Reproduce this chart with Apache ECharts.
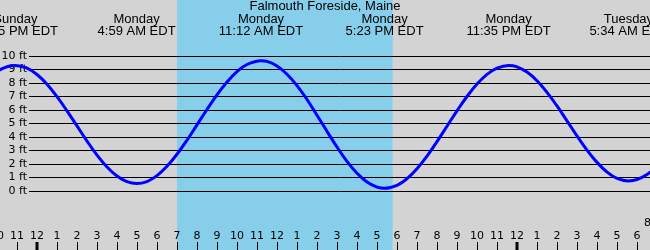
<!DOCTYPE html>
<html>
<head>
<meta charset="utf-8">
<script src="https://cdn.jsdelivr.net/npm/echarts@6/dist/echarts.min.js"></script>
<style>
html,body{margin:0;padding:0;background:#d3d3d3;}
#chart{width:650px;height:250px;}
</style>
</head>
<body>
<div id="chart"></div>
<script>
// Hours relative to Monday 00:00 EDT
const tideHours = [-2, -1.5, -1.08, -0.5, 0, 0.5, 1, 1.5, 2, 2.5, 3, 3.5, 4, 4.5, 4.98, 5.5, 6, 6.5, 7, 7.5, 8, 8.5, 9, 9.5, 10, 10.5, 11.2, 11.5, 12, 12.5, 13, 13.5, 14, 14.5, 15, 15.5, 16, 16.5, 17, 17.38, 18, 18.5, 19, 19.5, 20, 20.5, 21, 21.5, 22, 22.5, 23, 23.58, 24, 24.5, 25, 25.5, 26, 26.5, 27, 27.5, 28, 28.5, 29, 29.57, 30, 30.5, 31];
const tideFeet  = [8.86, 9.20, 9.30, 9.10, 8.63, 7.91, 6.99, 5.94, 4.82, 3.70, 2.66, 1.78, 1.11, 0.69, 0.55, 0.70, 1.14, 1.83, 2.72, 3.76, 4.90, 6.04, 7.12, 8.07, 8.84, 9.37, 9.65, 9.60, 9.26, 8.65, 7.81, 6.78, 5.61, 4.42, 3.26, 2.19, 1.32, 0.66, 0.29, 0.20, 0.42, 0.91, 1.65, 2.58, 3.66, 4.80, 5.94, 7.00, 7.92, 8.64, 9.10, 9.30, 9.20, 8.81, 8.17, 7.31, 6.30, 5.20, 4.08, 3.03, 2.12, 1.41, 0.94, 0.75, 0.85, 1.22, 1.82];

const eventHours = [-1.08, 4.98, 11.2, 17.38, 23.58, 29.57];
const eventDays  = ['Sunday', 'Monday', 'Monday', 'Monday', 'Monday', 'Tuesday'];
const eventTimes = ['10:55 PM EDT', '4:59 AM EDT', '11:12 AM EDT', '5:23 PM EDT', '11:35 PM EDT', '5:34 AM EDT'];

const daylight = [7.0, 17.78];
const midnights = [0, 24];
const hourRange = [-2, 31];
const feetRange = [0, 10];
const titleText = 'Falmouth Foreside, Maine';
const edgeLabel = '8';

const chart = echarts.init(document.getElementById('chart'));

const tideData = tideHours.map((h, i) => [h, tideFeet[i]]);
const hourFmt = v => { const h = ((Math.round(v) % 12) + 12) % 12; return String(h === 0 ? 12 : h); };

const option = {
  backgroundColor: '#d3d3d3',
  animation: false,
  title: {
    text: titleText, left: 'center', top: 0, padding: 0,
    textStyle: { fontFamily: 'Liberation Sans', fontSize: 13, fontWeight: 'normal', color: '#000' }
  },
  graphic: [{
    type: 'text', left: 644, top: 218,
    style: { text: edgeLabel, font: '11px "DejaVu Sans"', fill: '#000' }
  }],
  grid: [
    { left: -3, width: 660, top: 56, height: 135, outerBoundsMode: 'none', containLabel: false },
    { left: 29, right: 0, top: 56, height: 135, outerBoundsMode: 'none', containLabel: false },
    { left: -3, width: 660, top: 0, height: 250, outerBoundsMode: 'none', containLabel: false }
  ],
  xAxis: [
    { gridIndex: 0, type: 'value', min: hourRange[0], max: hourRange[1], show: false },
    { gridIndex: 1, type: 'value', min: 0, max: 1, show: false },
    {
      gridIndex: 2, type: 'value', min: hourRange[0], max: hourRange[1], interval: 1,
      position: 'bottom',
      axisLine: { show: false },
      splitLine: { show: false },
      axisTick: { inside: true, length: 8, lineStyle: { color: '#000', width: 1 } },
      axisLabel: {
        inside: true, margin: 8, color: '#000', fontFamily: 'DejaVu Sans', fontSize: 11,
        showMinLabel: true, showMaxLabel: true, formatter: hourFmt
      }
    }
  ],
  yAxis: [
    { gridIndex: 0, type: 'value', min: feetRange[0], max: feetRange[1], show: false },
    {
      gridIndex: 1, type: 'value', min: feetRange[0], max: feetRange[1], interval: 1,
      axisLine: { show: false }, axisTick: { show: false },
      splitLine: { lineStyle: { color: '#000', width: 1 } },
      axisLabel: { formatter: '{value} ft', margin: 2, color: '#000', fontFamily: 'DejaVu Sans', fontSize: 11 }
    },
    { gridIndex: 2, type: 'value', min: 0, max: 1, show: false }
  ],
  series: [
    {
      type: 'custom', xAxisIndex: 2, yAxisIndex: 2, z: -1, silent: true,
      data: [[daylight[0], daylight[1]]],
      encode: { x: [0, 1] },
      renderItem: (params, api) => {
        const x1 = api.coord([api.value(0), 0])[0];
        const x2 = api.coord([api.value(1), 0])[0];
        return { type: 'rect', shape: { x: x1, y: 0, width: x2 - x1, height: api.getHeight() }, style: { fill: '#87ceeb' } };
      }
    },
    {
      type: 'line', xAxisIndex: 0, yAxisIndex: 0, z: 3,
      data: tideData, smooth: 0.4, showSymbol: false, silent: true,
      lineStyle: { color: '#0000ff', width: 3 }
    },
    {
      type: 'custom', xAxisIndex: 2, yAxisIndex: 2, z: 4, silent: true,
      data: midnights.map(m => [m]),
      encode: { x: 0 },
      renderItem: (params, api) => {
        const x = api.coord([api.value(0), 0])[0];
        return { type: 'rect', shape: { x: x - 1.5, y: api.getHeight() - 8, width: 3, height: 8 }, style: { fill: '#000' } };
      }
    },
    {
      type: 'custom', xAxisIndex: 2, yAxisIndex: 2, z: 4, silent: true,
      data: eventHours.map((h, i) => [h, i]),
      encode: { x: 0 },
      renderItem: (params, api) => {
        const i = api.value(1);
        const x = api.coord([api.value(0), 0])[0];
        return {
          type: 'group',
          children: [
            { type: 'text', x: x, y: 19.5, style: { text: eventDays[i], font: '13px "Liberation Sans"', fill: '#000', align: 'center', verticalAlign: 'middle', textAlign: 'center', textVerticalAlign: 'middle' } },
            { type: 'text', x: x, y: 31.5, style: { text: eventTimes[i], font: '13px "Liberation Sans"', fill: '#000', align: 'center', verticalAlign: 'middle', textAlign: 'center', textVerticalAlign: 'middle' } }
          ]
        };
      }
    }
  ]
};

chart.setOption(option);
</script>
</body>
</html>
